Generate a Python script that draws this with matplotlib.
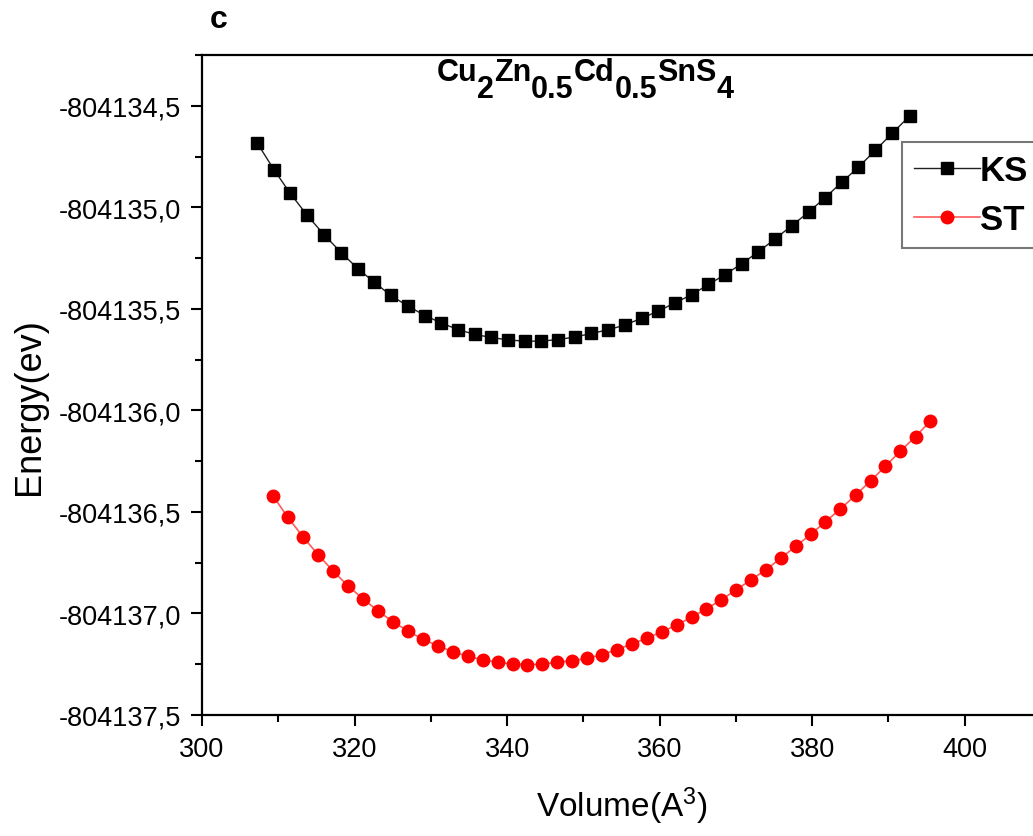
import matplotlib
matplotlib.use("Agg")
import matplotlib.pyplot as plt
from matplotlib.ticker import MultipleLocator, FuncFormatter
import numpy as np

plt.rcParams['font.family'] = ['Liberation Sans', 'DejaVu Sans']
plt.rcParams['mathtext.fontset'] = 'custom'
plt.rcParams['mathtext.rm'] = 'Liberation Sans'
plt.rcParams['mathtext.bf'] = 'Liberation Sans:bold'
plt.rcParams['mathtext.it'] = 'Liberation Sans:italic'

# KS curve (volume in A^3, energy in eV)
ks_vol = [307.25, 309.44, 311.54, 313.81, 316.00, 318.27, 320.46, 322.56, 324.75, 327.02,
          329.25, 331.38, 333.57, 335.76, 337.94, 340.13, 342.32, 344.50, 346.69, 348.88,
          351.06, 353.29, 355.48, 357.67, 359.84, 362.03, 364.22, 366.40, 368.59, 370.78,
          372.96, 375.15, 377.34, 379.52, 381.71, 383.90, 386.07, 388.26, 390.53, 392.76]
ks_energy = [-804134.684, -804134.815, -804134.930, -804135.040, -804135.135, -804135.224,
             -804135.303, -804135.368, -804135.434, -804135.487, -804135.533, -804135.570,
             -804135.602, -804135.626, -804135.641, -804135.653, -804135.659, -804135.659,
             -804135.651, -804135.639, -804135.621, -804135.603, -804135.579, -804135.546,
             -804135.511, -804135.470, -804135.430, -804135.380, -804135.331, -804135.277,
             -804135.219, -804135.155, -804135.090, -804135.024, -804134.952, -804134.876,
             -804134.802, -804134.720, -804134.634, -804134.551]

# ST curve
st_vol = [309.35, 311.24, 313.29, 315.25, 317.22, 319.19, 321.15, 323.12, 325.01, 326.98,
          328.94, 330.91, 332.85, 334.85, 336.81, 338.78, 340.75, 342.66, 344.63, 346.52,
          348.49, 350.45, 352.42, 354.39, 356.35, 358.32, 360.29, 362.26, 364.22, 366.10,
          368.07, 370.03, 371.96, 373.97, 375.90, 377.86, 379.83, 381.74, 383.71, 385.73,
          387.65, 389.61, 391.54, 393.55, 395.48]
st_energy = [-804136.423, -804136.526, -804136.625, -804136.712, -804136.792, -804136.866,
             -804136.929, -804136.989, -804137.040, -804137.086, -804137.127, -804137.159,
             -804137.188, -804137.211, -804137.229, -804137.240, -804137.250, -804137.252,
             -804137.250, -804137.240, -804137.233, -804137.221, -804137.203, -804137.178,
             -804137.150, -804137.122, -804137.090, -804137.057, -804137.017, -804136.978,
             -804136.933, -804136.884, -804136.835, -804136.784, -804136.727, -804136.669,
             -804136.610, -804136.548, -804136.485, -804136.416, -804136.347, -804136.275,
             -804136.201, -804136.129, -804136.053]

# formula pieces: (text, is_subscript)
title_parts = [('Cu', False), ('2', True), ('Zn', False), ('0.5', True),
               ('Cd', False), ('0.5', True), ('SnS', False), ('4', True)]

W, H = 1033, 837
fig = plt.figure(figsize=(10.33, 8.37), dpi=100)
# axes run past the right edge, like the cropped original
ax = fig.add_axes([202 / W, 1 - 716 / H, 839 / W, 660 / H])

ax.plot(ks_vol, ks_energy, color='#202020', lw=1.0, marker='s', ms=8.5,
        mfc='black', mec='black', label='KS')
ax.plot(st_vol, st_energy, color='#ff5a5a', lw=1.2, marker='o', ms=9,
        mfc='red', mec='red', label='ST')

ax.set_xlim(300, 410)
ax.set_ylim(-804137.5, -804134.25)
ax.xaxis.set_major_locator(MultipleLocator(20))
ax.xaxis.set_minor_locator(MultipleLocator(10))
ax.yaxis.set_major_locator(MultipleLocator(0.5))
ax.yaxis.set_minor_locator(MultipleLocator(0.25))
ax.yaxis.set_major_formatter(FuncFormatter(lambda v, p: f"{v:.1f}".replace('.', ',')))

ax.tick_params(which='both', direction='out', width=1.5, labelsize=19.5, top=False, right=False)
ax.tick_params(which='major', length=8, pad=7)
ax.tick_params(which='minor', length=5)
for s in ['left', 'bottom', 'top']:
    ax.spines[s].set_linewidth(1.6)
ax.spines['right'].set_visible(False)

ax.set_xlabel('Volume(A$^3$)', fontsize=24)
ax.xaxis.set_label_coords(0.5, (716 - 786) / 660)
ax.set_ylabel('Energy(ev)', fontsize=26)
ax.yaxis.set_label_coords((47 - 202) / 839, (716 - 407) / 660)

# formula title with dropped subscripts
renderer = fig.canvas.get_renderer()
texts = []
for s, sub in title_parts:
    t = fig.text(0, 1 - (98 if sub else 81) / H, s, fontsize=22,
                 fontweight='bold', ha='left', va='baseline')
    texts.append(t)
widths = [t.get_window_extent(renderer).width for t in texts]
x = 585 - sum(widths) / 2
for t, w in zip(texts, widths):
    t.set_x(x / W)
    x += w

fig.text(210 / W, 1 - 20 / H, 'c', fontsize=23, fontweight='bold', ha='left', va='center')

leg = ax.legend(loc='upper left', bbox_to_anchor=(902 / W, 1 - 143 / H),
                bbox_transform=fig.transFigure, frameon=True, fancybox=False,
                prop={'weight': 'bold', 'size': 25}, handlelength=1.9,
                handletextpad=0.0, borderpad=0.35, labelspacing=0.45, borderaxespad=0)
leg.get_frame().set_edgecolor('#555555')
leg.get_frame().set_linewidth(1.5)

fig.savefig('out.png', dpi=100)
